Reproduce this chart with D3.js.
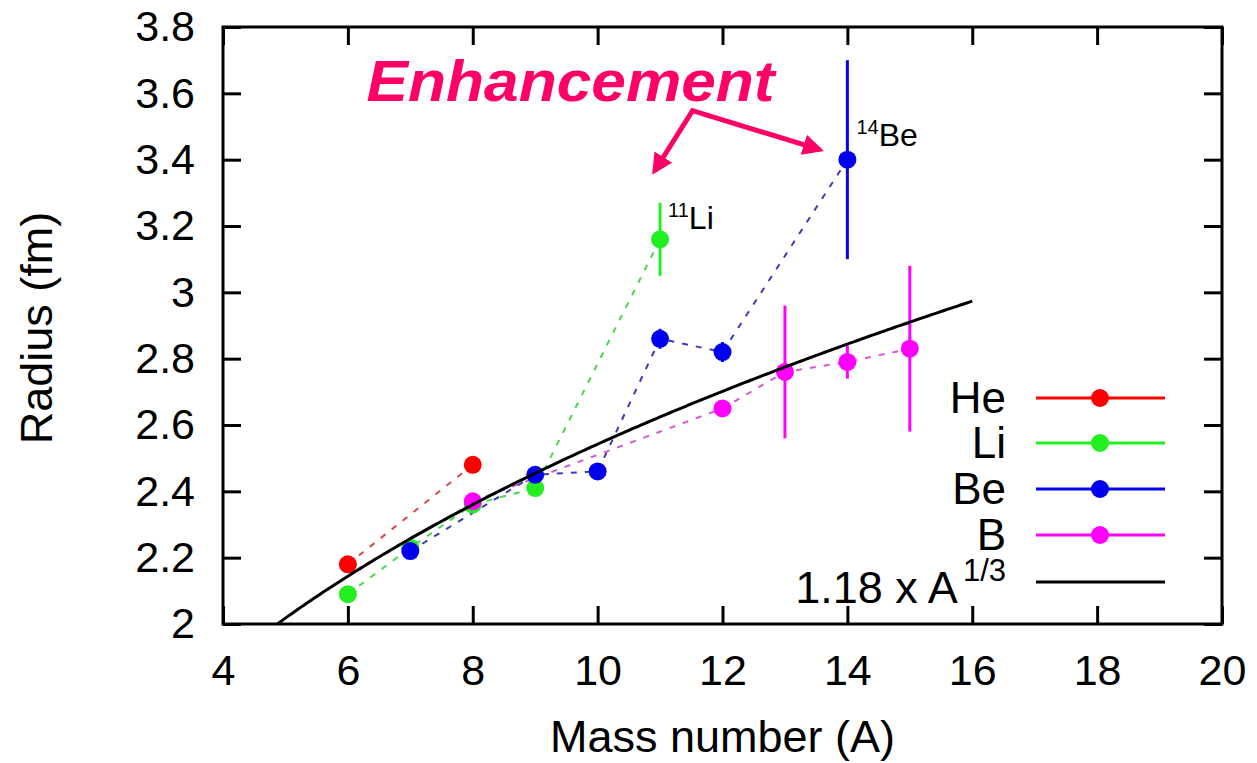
<!DOCTYPE html>
<html>
<head>
<meta charset="utf-8">
<script src="https://cdn.jsdelivr.net/npm/d3@7"></script>
<style>
  html, body { margin: 0; padding: 0; background: #fff; }
  svg { display: block; }
  text { font-family: "Liberation Sans", Arial, Helvetica, sans-serif; }
</style>
</head>
<body>
<svg id="chart" width="1257" height="763"></svg>
<script>
// Matter radii of light nuclei (He, Li, Be, B isotopes) vs mass number
const xTicks = [4, 6, 8, 10, 12, 14, 16, 18, 20];
const yTicks = [2, 2.2, 2.4, 2.6, 2.8, 3, 3.2, 3.4, 3.6, 3.8];

const heA = [6, 8];
const heR = [2.18, 2.48];
const heErr = [0, 0];

const liA = [6, 7, 8, 9, 11];
const liR = [2.09, 2.23, 2.36, 2.41, 3.16];
const liErr = [0, 0, 0, 0, 0.11];

const beA = [7, 9, 10, 11, 12, 14];
const beR = [2.22, 2.45, 2.46, 2.86, 2.82, 3.40];
const beErr = [0, 0, 0, 0.03, 0.03, 0.30];

const bA = [8, 12, 13, 14, 15];
const bR = [2.37, 2.65, 2.76, 2.79, 2.83];
const bErr = [0, 0, 0.20, 0.05, 0.25];

const seriesNames = ["He", "Li", "Be", "B"];
const markColors = ["#ff0000", "#22ee22", "#0000ee", "#ff00ff"];
const dashColors = ["#d84848", "#4ad84a", "#3a3ab8", "#d35ad3"];

// r = r0 * A^(1/3)
const r0 = 1.18;
const curveA = d3.range(4.8, 16.001, 0.05);

const svg = d3.select("#chart");
const mLeft = 223, mRight = 1222, mTop = 27, mBottom = 624;

const x = d3.scaleLinear().domain([4, 20]).range([mLeft, mRight]);
const y = d3.scaleLinear().domain([2, 3.8]).range([mBottom, mTop]);

const defs = svg.append("defs");
defs.append("clipPath").attr("id", "clip")
  .append("rect").attr("x", mLeft).attr("y", mTop)
  .attr("width", mRight - mLeft).attr("height", mBottom - mTop);

const build = (A, R, E) => A.map((a, i) => ({ a, r: R[i], e: E[i] }));
const series = [
  build(heA, heR, heErr),
  build(liA, liR, liErr),
  build(beA, beR, beErr),
  build(bA, bR, bErr)
];

const line = d3.line().x(d => x(d.a)).y(d => y(d.r));
const body = svg.append("g").attr("clip-path", "url(#clip)");

series.forEach((s, k) => {
  body.append("path").datum(s)
    .attr("d", line)
    .attr("fill", "none")
    .attr("stroke", dashColors[k])
    .attr("stroke-width", 2)
    .attr("stroke-dasharray", "6,8");
});

series.forEach((s, k) => {
  const g = body.append("g");
  g.selectAll("line.err").data(s.filter(d => d.e > 0)).join("line")
    .attr("class", "err")
    .attr("x1", d => x(d.a)).attr("x2", d => x(d.a))
    .attr("y1", d => y(d.r - d.e)).attr("y2", d => y(d.r + d.e))
    .attr("stroke", markColors[k]).attr("stroke-width", 3);
  g.selectAll("circle").data(s).join("circle")
    .attr("cx", d => x(d.a)).attr("cy", d => y(d.r))
    .attr("r", 9).attr("fill", markColors[k]);
});

// liquid-drop radius curve
body.append("path")
  .datum(curveA.map(a => ({ a, r: r0 * Math.cbrt(a) })))
  .attr("d", line)
  .attr("fill", "none")
  .attr("stroke", "#000")
  .attr("stroke-width", 3);

// axes with inward ticks on all four sides
const tickLen = 18;
const axB = svg.append("g").attr("transform", `translate(0,${mBottom})`)
  .call(d3.axisBottom(x).tickValues(xTicks).tickSize(-tickLen).tickPadding(30).tickFormat(d3.format("d")));
const axT = svg.append("g").attr("transform", `translate(0,${mTop})`)
  .call(d3.axisTop(x).tickValues(xTicks).tickSize(-tickLen).tickFormat(""));
const axL = svg.append("g").attr("transform", `translate(${mLeft},0)`)
  .call(d3.axisLeft(y).tickValues(yTicks).tickSize(-tickLen).tickPadding(28).tickFormat(d => String(+d.toFixed(1))));
const axR = svg.append("g").attr("transform", `translate(${mRight},0)`)
  .call(d3.axisRight(y).tickValues(yTicks).tickSize(-tickLen).tickFormat(""));

[axB, axT, axL, axR].forEach(ax => {
  ax.select(".domain").remove();
  ax.selectAll(".tick line").attr("stroke", "#000").attr("stroke-width", 3);
});
axB.selectAll(".tick text").attr("font-size", 43).attr("fill", "#000")
  .attr("font-family", "Liberation Sans, Arial, sans-serif").attr("dy", "0.71em");
axL.selectAll(".tick text").attr("font-size", 43).attr("fill", "#000")
  .attr("font-family", "Liberation Sans, Arial, sans-serif");

svg.append("rect")
  .attr("x", mLeft).attr("y", mTop)
  .attr("width", mRight - mLeft).attr("height", mBottom - mTop)
  .attr("fill", "none").attr("stroke", "#000").attr("stroke-width", 3);

// axis titles
svg.append("text")
  .attr("x", (mLeft + mRight) / 2).attr("y", 752)
  .attr("text-anchor", "middle").attr("font-size", 45)
  .text("Mass number (A)");
svg.append("text")
  .attr("transform", "translate(52,328) rotate(-90)")
  .attr("text-anchor", "middle").attr("font-size", 45)
  .text("Radius (fm)");

// legend
const legText = 1006, legL = 1036, legR = 1165, legMark = 1100;
const legY = [398, 443, 489, 535];
seriesNames.forEach((name, k) => {
  svg.append("text").attr("x", legText).attr("y", legY[k] + 15)
    .attr("text-anchor", "end").attr("font-size", 44).text(name);
  svg.append("line").attr("x1", legL).attr("x2", legR)
    .attr("y1", legY[k]).attr("y2", legY[k])
    .attr("stroke", markColors[k]).attr("stroke-width", 3);
  svg.append("circle").attr("cx", legMark).attr("cy", legY[k]).attr("r", 9)
    .attr("fill", markColors[k]);
});
const fLabel = svg.append("text").attr("x", legText).attr("y", 603)
  .attr("text-anchor", "end").attr("font-size", 45);
fLabel.append("tspan").text("1.18 x A");
fLabel.append("tspan").attr("font-size", 31).attr("dy", -22).attr("dx", 5).text("1/3");
svg.append("line").attr("x1", legL).attr("x2", legR).attr("y1", 582).attr("y2", 582)
  .attr("stroke", "#000").attr("stroke-width", 3);

// isotope labels
function isoLabel(a, r, mass, sym, dx, dy) {
  const t = svg.append("text")
    .attr("x", x(a) + dx).attr("y", y(r) + dy).attr("font-size", 32);
  t.append("tspan").attr("font-size", 20).attr("dy", -12).text(mass);
  t.append("tspan").attr("dy", 12).text(sym);
}
isoLabel(11, 3.16, "11", "Li", 8, -10);
isoLabel(14, 3.40, "14", "Be", 9, -14);

// annotation with two arrows
const pink = "#ff0066";
defs.append("marker").attr("id", "head")
  .attr("viewBox", "0 0 10 10").attr("refX", 8).attr("refY", 5)
  .attr("markerWidth", 4.2).attr("markerHeight", 4.2)
  .attr("markerUnits", "strokeWidth")
  .attr("orient", "auto-start-reverse")
  .append("path").attr("d", "M0,0 L10,5 L0,10 Z").attr("fill", pink);

const arrowPts = [[10.91, 3.365], [11.52, 3.548], [13.56, 3.43]];
svg.append("path")
  .attr("d", d3.line().x(d => x(d[0])).y(d => y(d[1]))(arrowPts))
  .attr("fill", "none").attr("stroke", pink).attr("stroke-width", 5)
  .attr("stroke-linejoin", "miter")
  .attr("marker-start", "url(#head)").attr("marker-end", "url(#head)");

svg.append("text")
  .attr("x", x(6.3)).attr("y", y(3.577))
  .attr("font-family", "DejaVu Sans, Verdana, sans-serif")
  .attr("font-weight", "bold").attr("font-style", "italic")
  .attr("font-size", 58).attr("fill", pink)
  .attr("textLength", 408).attr("lengthAdjust", "spacingAndGlyphs")
  .text("Enhancement");
</script>
</body>
</html>
